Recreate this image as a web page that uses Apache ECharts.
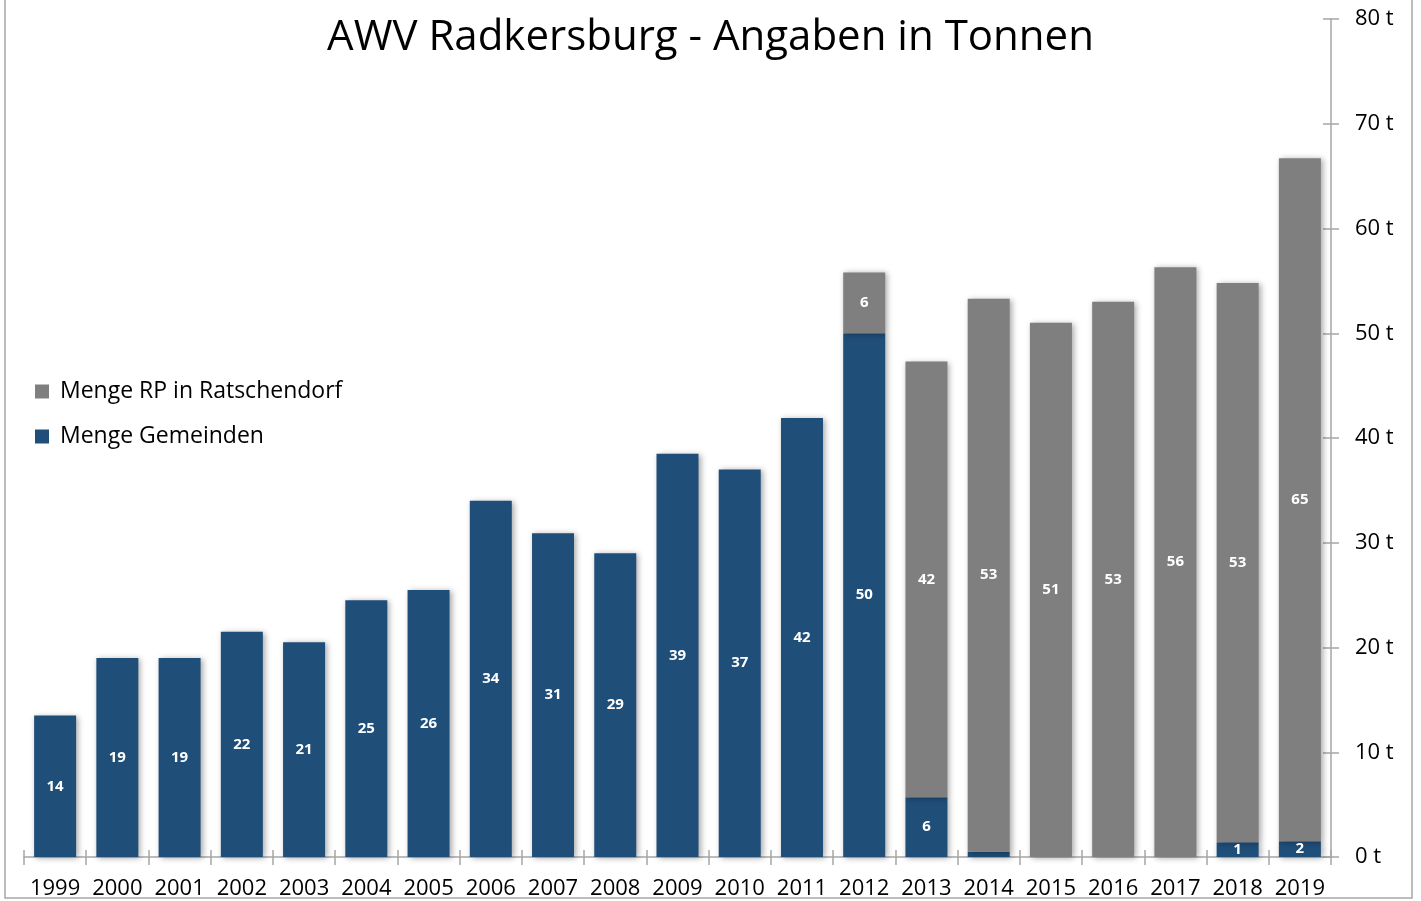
<!DOCTYPE html>
<html><head><meta charset="utf-8">
<script src="https://cdn.jsdelivr.net/npm/echarts@6/dist/echarts.min.js"></script>
<style>html,body{margin:0;padding:0;background:#fff}#c{width:1421px;height:901px}</style>
</head><body><div id="c"></div>
<script>
const years = ['1999','2000','2001','2002','2003','2004','2005','2006','2007','2008','2009','2010','2011','2012','2013','2014','2015','2016','2017','2018','2019'];
const gemeinden = [13.5,19.0,19.0,21.5,20.5,24.5,25.5,34.0,30.9,29.0,38.5,37.0,41.9,50.0,5.7,0.5,0,0,0,1.4,1.5];
const ratschendorf = [0,0,0,0,0,0,0,0,0,0,0,0,0,5.8,41.6,52.8,51.0,53.0,56.3,53.4,65.2];
const yTicks = [0,10,20,30,40,50,60,70,80];
const titleText = 'AWV Radkersburg - Angaben in Tonnen';
const nameG = 'Menge Gemeinden';
const nameR = 'Menge RP in Ratschendorf';

const FONT = '"Open Sans", sans-serif';
const chart = echarts.init(document.getElementById('c'), null, {renderer:'canvas'});
const lbl = {show:true, position:'inside', color:'#fff', fontFamily:FONT, fontWeight:'bold', fontSize:15,
  formatter: p => p.value < 0.9 ? '' : String(Math.round(p.value))};
const shadow = {shadowBlur:6, shadowColor:'rgba(0,0,0,0.35)', shadowOffsetX:2, shadowOffsetY:1};
chart.setOption({
  animation:false,
  title:{text:titleText, left:'center', top:12, textStyle:{fontFamily:FONT, fontWeight:'normal', fontSize:42, color:'#000'}},
  legend:{orient:'vertical', left:30, top:375, itemWidth:14, itemHeight:14, itemGap:22, icon:'rect',
    data:[nameR, nameG], textStyle:{fontFamily:FONT, fontSize:23, color:'#000', padding:[0,0,0,6]}},
  grid:{left:24, right:90, top:19, bottom:44, containLabel:false},
  xAxis:[{type:'category', data:years, axisLine:{lineStyle:{color:'#a6a6a6', width:1.5}},
    axisTick:{show:true, length:8, lineStyle:{color:'#a6a6a6', width:1.5}},
    axisLabel:{interval:0, fontFamily:FONT, fontSize:22, color:'#000', margin:21}},
    {type:'category', data:years, position:'bottom', axisLine:{show:false},
    axisTick:{show:true, inside:true, length:7, lineStyle:{color:'#a6a6a6', width:1.5}}, axisLabel:{show:false}}],
  yAxis:[{type:'value', position:'right', min:0, max:80, interval:10,
    axisLine:{show:true, lineStyle:{color:'#a6a6a6', width:1.5}},
    axisTick:{show:true, length:8, lineStyle:{color:'#a6a6a6', width:1.5}},
    splitLine:{show:false},
    axisLabel:{fontFamily:FONT, fontSize:22, color:'#000', margin:24, formatter: v => yTicks.includes(v) ? v + ' t' : ''}},
    {type:'value', position:'right', min:0, max:80, interval:10, axisLine:{show:false},
    axisTick:{show:true, inside:true, length:8, lineStyle:{color:'#a6a6a6', width:1.5}},
    splitLine:{show:false}, axisLabel:{show:false}}],
  series:[
    {name:nameG, type:'bar', stack:'a', data:gemeinden, barWidth:42, itemStyle:Object.assign({color:'#1f4e79'}, shadow), label:lbl},
    {name:nameR, type:'bar', stack:'a', data:ratschendorf, barWidth:42, itemStyle:Object.assign({color:'#7f7f7f'}, shadow), label:lbl}
  ],
  graphic:[{type:'rect', shape:{x:5, y:-5, width:1407, height:903}, style:{fill:'none', stroke:'#a6a6a6', lineWidth:1.5}, silent:true}]
});
</script></body></html>
